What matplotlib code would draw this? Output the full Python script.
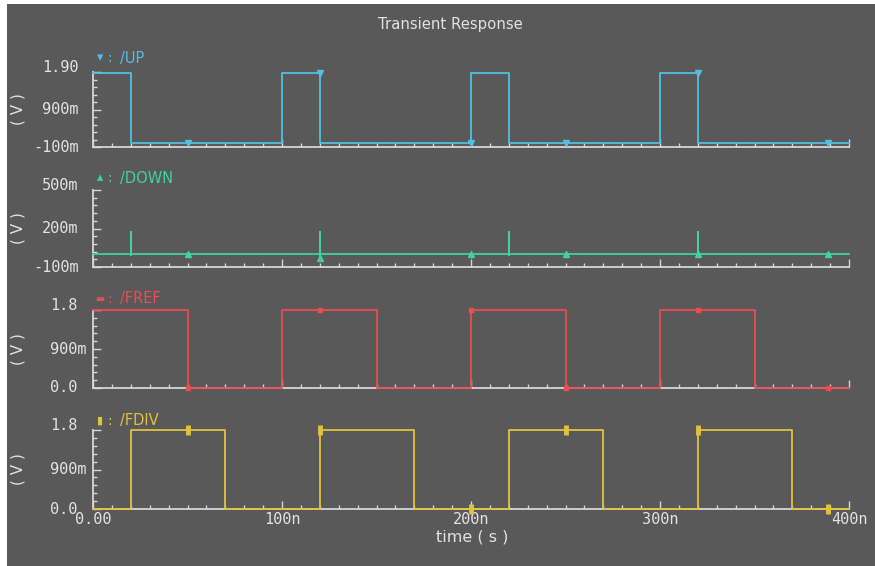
import matplotlib.pyplot as plt
import numpy as np
from matplotlib import transforms
from matplotlib.patches import Rectangle

# time in ns
t_ticks = [0, 100, 200, 300, 400]
t_tick_labels = ["0.00", "100n", "200n", "300n", "400n"]

# step waveforms: breakpoint times (ns) and the level that starts there (V)
up_t = [0, 20, 100, 120, 200, 220, 300, 320, 400]
up_v = [1.88, 0.0, 1.88, 0.0, 1.88, 0.0, 1.88, 0.0, 0.0]

fref_t = [0, 50, 100, 150, 200, 250, 300, 350, 400]
fref_v = [1.8, 0.0, 1.8, 0.0, 1.8, 0.0, 1.8, 0.0, 0.0]

fdiv_t = [0, 20, 70, 120, 170, 220, 270, 320, 370, 400]
fdiv_v = [0.0, 1.8, 0.0, 1.8, 0.0, 1.8, 0.0, 1.8, 0.0, 0.0]

# DOWN: flat baseline with short glitches
down_base = 0.0
down_spike_t = [20, 120, 220, 320]
down_spike_hi = [0.17, 0.17, 0.17, 0.17]
down_spike_lo = [-0.01, -0.03, -0.01, -0.01]

# marker positions along each trace
marker_t = [50, 120, 200, 250, 320, 389]
up_mark_v = [0.0, 1.88, 0.0, 0.0, 1.88, 0.0]
down_mark_v = [0.0, -0.03, 0.0, 0.0, 0.0, 0.0]
fref_mark_v = [0.0, 1.8, 1.8, 0.0, 1.8, 0.0]
fdiv_mark_v = [1.8, 1.8, 0.0, 1.8, 1.8, 0.0]

names = ["/UP", "/DOWN", "/FREF", "/FDIV"]
symbols = ["\u25be", "\u25b4", "\u25ac", "\u25ae"]
colors = ["#52bfe2", "#3ed3a0", "#ea4c52", "#e0c23e"]
ylims = [(-0.1, 1.9), (-0.1, 0.5), (0.0, 1.8), (0.0, 1.8)]
yticks = [[-0.1, 0.9, 1.9], [-0.1, 0.2, 0.5], [0.0, 0.9, 1.8], [0.0, 0.9, 1.8]]
ytick_labels = [["-100m", "900m", "1.90"], ["-100m", "200m", "500m"],
                ["0.0", "900m", "1.8"], ["0.0", "900m", "1.8"]]

bg = "#595959"
axis_col = "#d6d6d6"
text_col = "#e2e2e2"
W, H = 875, 566

fig = plt.figure(figsize=(W / 100, H / 100), dpi=100, facecolor="white")
fig.patches.append(Rectangle((7 / W, 0), 1, 1 - 4 / H, transform=fig.transFigure,
                             facecolor=bg, edgecolor="none", zorder=-10))

# panel layout in pixels: (top, bottom) of each plot area
panel_px = [(72, 147), (190, 267), (310, 388), (430, 509)]
x0, x1 = 93, 849
label_x = [42, 42, 50, 50]
legend_y = [58, 178, 299, 421]

mono = "DejaVu Sans Mono"

def step_xy(t, v):
    xs, ys = [t[0]], [v[0]]
    for i in range(1, len(t)):
        xs += [t[i], t[i]]
        ys += [v[i - 1], v[i]]
    return xs, ys

down_x, down_y = [0], [down_base]
for st, hi, lo in zip(down_spike_t, down_spike_hi, down_spike_lo):
    down_x += [st, st, st, st]
    down_y += [down_base, hi, lo, down_base]
down_x.append(400)
down_y.append(down_base)

traces = [step_xy(up_t, up_v), (down_x, down_y), step_xy(fref_t, fref_v), step_xy(fdiv_t, fdiv_v)]
marks = [up_mark_v, down_mark_v, fref_mark_v, fdiv_mark_v]
mstyles = [dict(marker="v", ms=5), dict(marker="^", ms=5),
           dict(marker="s", ms=3.5), dict(marker="|", ms=7, mew=3.5)]
sym_size = [9, 9, 7, 8]

for i in range(4):
    top, bot = panel_px[i]
    ax = fig.add_axes([x0 / W, 1 - bot / H, (x1 - x0) / W, (bot - top) / H])
    ax.set_facecolor("none")
    ax.set_xlim(0, 400)
    ax.set_ylim(*ylims[i])
    for s in ["top", "right"]:
        ax.spines[s].set_visible(False)
    for s in ["left", "bottom"]:
        ax.spines[s].set_color(axis_col)
        ax.spines[s].set_linewidth(1.3)

    ax.set_xticks(t_ticks)
    ax.set_xticks(np.arange(0, 401, 10), minor=True)
    ax.set_yticks(yticks[i])
    ax.set_yticks(np.linspace(ylims[i][0], ylims[i][1], 11), minor=True)
    ax.tick_params(which="both", direction="in", colors=axis_col, width=1,
                   labelleft=False, labelbottom=False)
    ax.tick_params(which="major", length=6)
    ax.tick_params(which="minor", length=3)

    xs, ys = traces[i]
    ax.plot(xs, ys, color=colors[i], lw=1.3, clip_on=False, zorder=3)
    ax.plot(marker_t, marks[i], ls="none", color=colors[i], clip_on=False,
            zorder=4, **mstyles[i])

    # y tick labels
    tr = transforms.blended_transform_factory(fig.transFigure, ax.transData)
    for val, lab in zip(yticks[i], ytick_labels[i]):
        lx = label_x[i] - (9 if lab.startswith("-") else 0)
        va = "baseline" if val == yticks[i][-1] else "center"
        ax.text(lx / W, val, lab, transform=tr, ha="left", va=va,
                color=text_col, fontsize=11, family=mono)

    # trace legend
    ly = 1 - legend_y[i] / H
    fig.text(100 / W, ly, symbols[i], color=colors[i], fontsize=sym_size[i],
             ha="center", va="center")
    fig.text(107 / W, ly, ":", color=colors[i], fontsize=10, ha="left", va="center")
    fig.text(120 / W, ly, names[i], color=colors[i], fontsize=10.5,
             ha="left", va="center")

    fig.text(18 / W, 1 - (top + bot) / 2 / H, "( V )", rotation=90,
             color=text_col, fontsize=11, ha="center", va="center")

    if i == 3:
        for tv, tl in zip(t_ticks, t_tick_labels):
            ax.text(tv, -11 / (bot - top), tl, transform=ax.get_xaxis_transform(),
                    ha="center", va="center", color=text_col, fontsize=11, family=mono)

fig.text(450 / W, 1 - 25 / H, "Transient Response", ha="center", va="center",
         color=text_col, fontsize=10.7)
fig.text(472 / W, 1 - 537 / H, "time ( s )", ha="center", va="center",
         color=text_col, fontsize=11.5)

fig.savefig("out.png", dpi=100, facecolor=fig.get_facecolor())
